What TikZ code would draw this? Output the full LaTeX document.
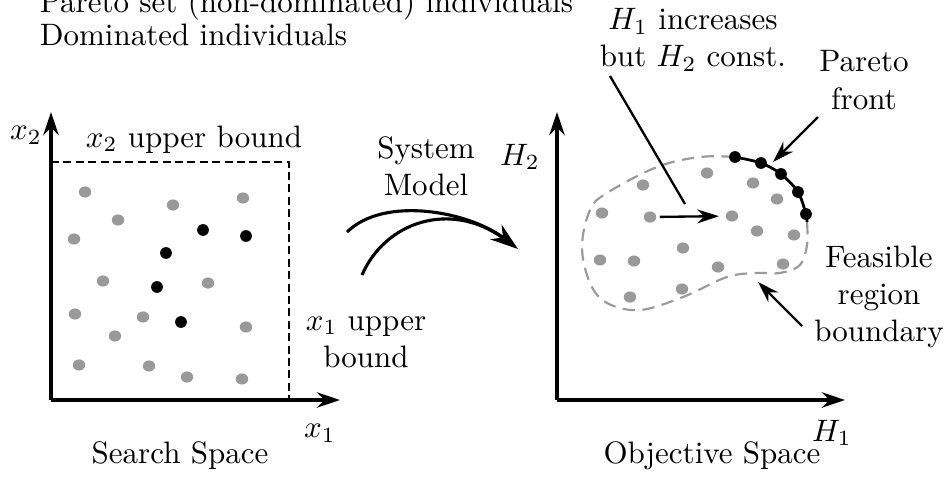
\documentclass[tikz,border=0pt]{standalone}
\usepackage{tikz}
\usetikzlibrary{arrows.meta,shapes.geometric}
\definecolor{DotGray}{HTML}{999999}
\definecolor{EdgeGray}{HTML}{9A9A9A}

\begin{document}
\begin{tikzpicture}[x=0.3226pt, y=-0.3226pt,
  every node/.style={align=center},
  axis/.style={line width=1.1pt, -{Stealth[length=7.5pt,width=5pt]}},
  pointer/.style={line width=0.75pt, -{Stealth[length=7pt,width=4.5pt]}},
  bound/.style={line width=0.65pt, dash pattern=on 2.6pt off 1.4pt},
  feasible/.style={EdgeGray, line width=0.7pt, dash pattern=on 4pt off 2.4pt},
  gdot/.style={ellipse, fill=DotGray, inner sep=0pt, minimum width=4pt, minimum height=3.6pt},
  bdot/.style={circle, fill=black, inner sep=0pt, minimum size=3.8pt}]
  \useasboundingbox (0,0) rectangle (950,478);
  % legend
  \node[anchor=base west] (lgpar) at (29,12) {Pareto set (non-dominated) individuals};
  \node[anchor=base west] (lgdom) at (29,45) {Dominated individuals};
  % search space
  \coordinate (so) at (51,400);
  \coordinate (sx) at (340,400);
  \coordinate (sy) at (51,112);
  \coordinate (stl) at (51,162);
  \coordinate (sbr) at (289,400);
  \draw[bound] (stl) -| (sbr);
  \draw[axis] (so) -- (sx);
  \draw[axis] (so) -- (sy);
  \node (x2) at (26,135) {$x_2$};
  \node[anchor=base] (x2ub) at (194,147) {$x_2$ upper bound};
  \node (x1ub) at (366,342) {$x_1$ upper\\bound};
  \node (x1) at (320,433) {$x_1$};
  \node[anchor=base] (ss) at (180,463) {Search Space};
  \foreach \p [count=\i] in {(85,192),(173,205),(243,198),(118,220),(74,239),
      (103,281),(208,283),(75,314),(143,317),(115,336),(246,327),(79,365),
      (149,366),(187,377),(242,379)}
    \node[gdot] (sg\i) at \p {};
  \foreach \p [count=\i] in {(203,230),(246,236),(166,253),(157,287),(181,322)}
    \node[bdot] (sb\i) at \p {};
  % system model
  \node (model) at (426,166) {System\\Model};
  \coordinate (ma) at (347,232);
  \coordinate (mb) at (362,275);
  \coordinate (mtip) at (518,249);
  \coordinate (mjoin) at (503,238);
  \draw[line width=1pt, -{Stealth[length=9pt,width=6pt]}] (ma) .. controls (385,195) and (470,212) .. (mtip);
  \draw[line width=1pt] (mb) .. controls (385,222) and (450,200) .. (mjoin);
  % objective space
  \coordinate (oo) at (557,400);
  \coordinate (ox) at (845,400);
  \coordinate (oy) at (557,112);
  \draw[axis] (oo) -- (ox);
  \draw[axis] (oo) -- (oy);
  \node (h2) at (520,157) {$H_2$};
  \node (h1) at (832,433) {$H_1$};
  \node[anchor=base] (os) at (712,463) {Objective Space};
  \draw[feasible] plot[smooth, tension=0.6] coordinates {(807,222) (807,245) (800,265)
    (780,273) (757,273) (727,277) (683,297) (640,310) (607,303) (590,283) (582,247)
    (590,210) (607,193) (657,167) (700,157) (735,157)};
  \draw[line width=0.9pt] plot[smooth] coordinates {(735,157) (761,163) (781,174)
    (798,192) (806,214) (807,222)};
  \foreach \p [count=\i] in {(602,213),(643,185),(707,173),(753,183),(777,199),
      (757,231),(794,235),(600,260),(634,261),(683,248),(718,267),(783,264),
      (630,297),(682,289)}
    \node[gdot] (og\i) at \p {};
  \node[gdot] (hstart) at (650,217) {};
  \node[gdot] (hend) at (732,216) {};
  \foreach \p [count=\i] in {(735,157),(761,163),(781,174),(798,192),(806,214)}
    \node[bdot] (ob\i) at \p {};
  \draw[pointer, shorten <=1pt, shorten >=2pt] (hstart) -- (hend);
  % labels with pointers
  \node (incr) at (693,40) {$H_1$ increases\\but $H_2$ const.};
  \coordinate (incra) at (610,76);
  \coordinate (incrb) at (685,204);
  \draw[line width=0.75pt] (incra) -- (incrb);
  \node (front) at (864,80) {Pareto\\front};
  \coordinate (fronta) at (818,117);
  \coordinate (frontb) at (773,162);
  \draw[pointer] (fronta) -- (frontb);
  \node (feas) at (879,297) {Feasible\\region\\boundary};
  \coordinate (feasa) at (802,326);
  \coordinate (feasb) at (758,282);
  \draw[pointer] (feasa) -- (feasb);
\end{tikzpicture}
\end{document}
